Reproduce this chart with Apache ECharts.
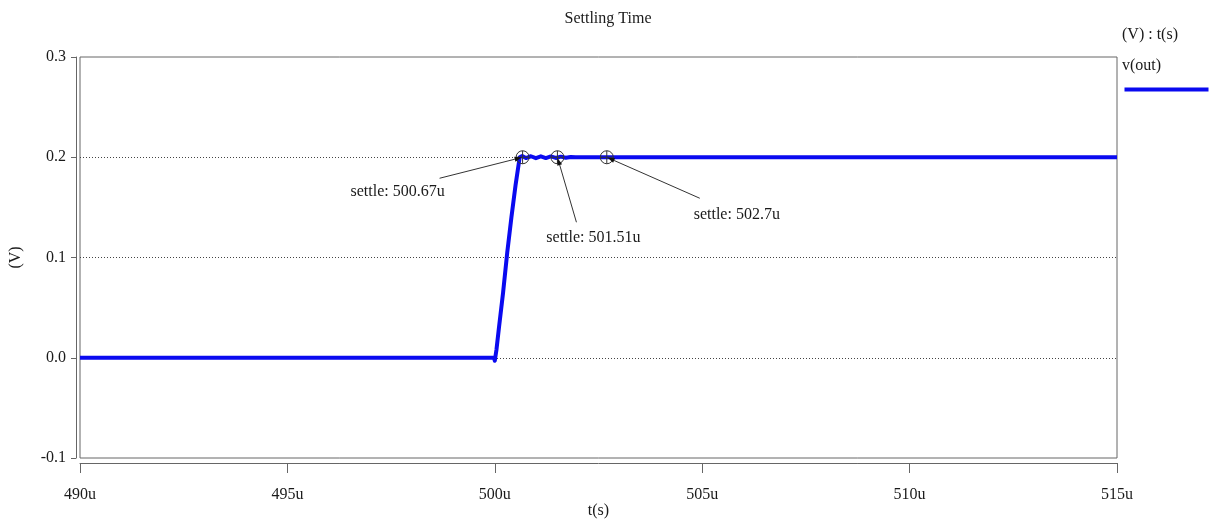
<!DOCTYPE html>
<html>
<head>
<meta charset="utf-8">
<title>Settling Time</title>
<script src="https://cdn.jsdelivr.net/npm/echarts@6/dist/echarts.min.js"></script>
<style>
  html, body { margin: 0; padding: 0; background: #fff; }
  #chart { width: 1216px; height: 521px; }
</style>
</head>
<body>
<div id="chart"></div>
<script>
// Transient response of v(out), time in microseconds
const timeUs = [
  490.0, 499.98, 500.0, 500.04, 500.1, 500.2, 500.3, 500.4, 500.5, 500.6, 500.66,
  500.75, 500.87, 500.99, 501.11, 501.23, 501.35, 501.47, 501.59, 501.71, 501.83,
  501.95, 515.0
];
const vOut = [
  0.0, 0.0, -0.003, 0.008, 0.030, 0.065, 0.105, 0.140, 0.172, 0.200, 0.2012,
  0.1992, 0.2010, 0.1991, 0.2009, 0.1992, 0.2008, 0.1993, 0.2006, 0.1995, 0.2003,
  0.2000, 0.2000
];

// Settling-time measurement markers
const settleTimes = [500.67, 501.51, 502.7];
const settleLevel = [0.2, 0.2, 0.2];
const settleLabels = ['settle: 500.67u', 'settle: 501.51u', 'settle: 502.7u'];

// Axis ticks
const xTicks = [490, 495, 500, 505, 510, 515];
const yTicks = [-0.1, 0.0, 0.1, 0.2, 0.3];

// Callout geometry (pixel offsets of leader start and label centre from the marker)
const calloutStyle = [
  { line: [-83, 21], text: [-125, 35] },
  { line: [19, 65], text: [36, 81] },
  { line: [93, 41], text: [130, 58] }
];

const FONT = '"Liberation Serif", "DejaVu Serif", serif';
const TRACE = '#0a0af0';
const INK = '#1a1a1a';

const chart = echarts.init(document.getElementById('chart'), null, { renderer: 'canvas' });

const wave = timeUs.map((t, i) => [t, vOut[i]]);
const settlePts = settleTimes.map((t, i) => [t, settleLevel[i], settleLabels[i]]);

function renderSettle(params, api) {
  const p = api.coord([api.value(0), api.value(1)]);
  const st = calloutStyle[params.dataIndex];
  const sx = p[0] + st.line[0], sy = p[1] + st.line[1];
  const dx = p[0] - sx, dy = p[1] - sy;
  const len = Math.sqrt(dx * dx + dy * dy);
  const ux = dx / len, uy = dy / len;
  const tipX = p[0] - ux * 1, tipY = p[1] - uy * 1;
  const bx = tipX - ux * 7, by = tipY - uy * 7;
  const r = 6.5;
  return {
    type: 'group',
    children: [
      { type: 'circle', shape: { cx: p[0], cy: p[1], r: r },
        style: { fill: 'none', stroke: '#333', lineWidth: 1 } },
      { type: 'line', shape: { x1: p[0], y1: p[1] - r, x2: p[0], y2: p[1] + r },
        style: { stroke: '#333', lineWidth: 1 } },
      { type: 'line', shape: { x1: p[0] - r, y1: p[1], x2: p[0] + r, y2: p[1] },
        style: { stroke: '#333', lineWidth: 1 } },
      { type: 'line', shape: { x1: sx, y1: sy, x2: bx, y2: by },
        style: { stroke: '#333', lineWidth: 1 } },
      { type: 'polygon',
        shape: { points: [[tipX, tipY],
                          [bx - uy * 2.5, by + ux * 2.5],
                          [bx + uy * 2.5, by - ux * 2.5]] },
        style: { fill: '#111' } },
      { type: 'text',
        style: { x: p[0] + st.text[0], y: p[1] + st.text[1], text: api.value(2),
                 font: '16px ' + FONT, fill: INK, align: 'center', verticalAlign: 'middle' } }
    ]
  };
}

const option = {
  animation: false,
  backgroundColor: '#fff',
  grid: {
    left: 80, right: 99, top: 57, bottom: 63,
    outerBoundsMode: 'none',
    containLabel: false,
    show: true, borderColor: '#666', borderWidth: 1, backgroundColor: 'transparent'
  },
  graphic: [
    { type: 'text', left: 'center', top: 11,
      style: { text: 'Settling Time', font: '16px ' + FONT, fill: INK } },
    { type: 'text', left: 1122, top: 27,
      style: { text: '(V) : t(s)', font: '16px ' + FONT, fill: INK } },
    { type: 'text', left: 1122, top: 58,
      style: { text: 'v(out)', font: '16px ' + FONT, fill: INK } },
    { type: 'line', left: 1122, top: 87,
      shape: { x1: 0, y1: 0, x2: 84, y2: 0 },
      style: { stroke: TRACE, lineWidth: 4 } }
  ],
  xAxis: {
    type: 'value',
    min: xTicks[0], max: xTicks[xTicks.length - 1], interval: 5,
    offset: 5,
    name: 't(s)', nameLocation: 'middle', nameGap: 40, nameMoveOverlap: false,
    nameTextStyle: { fontFamily: FONT, fontSize: 16, color: INK },
    axisLine: { show: true, onZero: false, lineStyle: { color: '#666', width: 1 } },
    axisTick: { show: true, inside: false, length: 10, lineStyle: { color: '#666' } },
    axisLabel: { formatter: v => xTicks.includes(v) ? v + 'u' : '',
                 fontFamily: FONT, fontSize: 16, color: INK, margin: 24 },
    splitLine: { show: false }
  },
  yAxis: {
    type: 'value',
    min: yTicks[0], max: yTicks[yTicks.length - 1], interval: 0.1,
    offset: 4,
    name: '(V)', nameLocation: 'middle', nameGap: 52, nameRotate: 90,
    nameTextStyle: { fontFamily: FONT, fontSize: 16, color: INK },
    axisLine: { show: true, onZero: false, lineStyle: { color: '#666', width: 1 } },
    axisTick: { show: true, inside: false, length: 5, lineStyle: { color: '#666' } },
    axisLabel: { formatter: v => v.toFixed(1), fontFamily: FONT, fontSize: 16,
                 color: INK, margin: 10 },
    splitLine: { show: true, showMinLine: false, showMaxLine: false,
                 lineStyle: { type: [1, 2], color: '#444', width: 1 } }
  },
  series: [
    {
      name: 'v(out)',
      type: 'line',
      data: wave,
      showSymbol: false,
      smooth: false,
      lineStyle: { color: TRACE, width: 4, join: 'round' },
      z: 3
    },
    {
      name: 'settle',
      type: 'custom',
      data: settlePts,
      encode: { x: 0, y: 1 },
      renderItem: renderSettle,
      z: 5
    }
  ]
};

chart.setOption(option);
</script>
</body>
</html>
